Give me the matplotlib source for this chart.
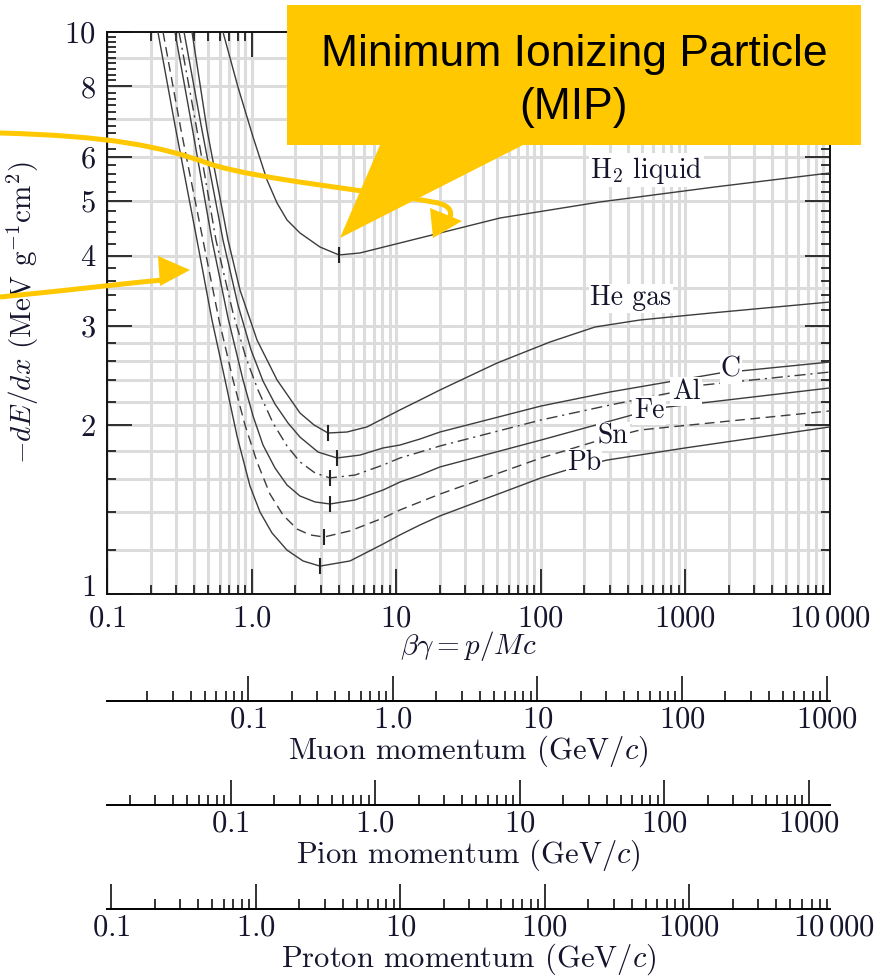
import matplotlib.pyplot as plt
import matplotlib.transforms as mtransforms
import numpy as np
from matplotlib.patches import Polygon, PathPatch
from matplotlib.path import Path
from matplotlib.ticker import FixedLocator, FixedFormatter, LogLocator, NullFormatter

plt.rcParams['font.family'] = 'cmr10'
plt.rcParams['mathtext.fontset'] = 'cm'
plt.rcParams['axes.unicode_minus'] = False
plt.rcParams['axes.formatter.use_mathtext'] = True

# stopping power, -dE/dx in MeV g^-1 cm^2, against beta*gamma
h2_bg = [0.634, 0.805, 1.023, 1.278, 1.499, 1.757, 2.161, 2.972, 4.022, 5.62, 7.727, 20.09, 52.24,
         256.7, 1602, 10000]
h2_dedx = [10.0, 7.98, 6.505, 5.454, 4.963, 4.630, 4.389, 4.144, 4.011, 4.044, 4.128, 4.389, 4.667,
           4.984, 5.30, 5.613]

he_bg = [0.387, 0.492, 0.687, 0.831, 1.090, 1.499, 2.161, 2.701, 3.376, 4.569, 6.282, 10.62, 14.61,
         20.09, 49.79, 115.8, 237.1, 485.4, 1504, 10000]
he_dedx = [10.0, 6.693, 4.265, 3.475, 2.831, 2.404, 2.099, 1.999, 1.934, 1.942, 1.983, 2.126, 2.214,
           2.307, 2.576, 2.808, 2.986, 3.073, 3.162, 3.308]

c_bg = [0.341, 0.447, 0.634, 0.805, 0.991, 1.199, 1.451, 1.785, 2.161, 2.880, 3.896, 5.62, 8.104,
        10.62, 14.61, 20.09, 100.3, 301.1, 1735, 10000]
c_dedx = [10.0, 6.832, 4.265, 3.268, 2.718, 2.393, 2.178, 2.015, 1.902, 1.789, 1.746, 1.767, 1.819,
          1.841, 1.887, 1.942, 2.160, 2.288, 2.473, 2.587]

al_bg = [0.315, 0.413, 0.567, 0.744, 0.915, 1.107, 1.406, 1.757, 2.161, 2.745, 3.485, 5.19, 8.104,
         10.62, 14.61, 20.09, 100.3, 301.1, 782.5, 1323, 10000]
al_dedx = [10.0, 6.832, 4.265, 3.162, 2.630, 2.307, 2.015, 1.834, 1.718, 1.642, 1.609, 1.628, 1.696,
           1.746, 1.789, 1.834, 2.040, 2.169, 2.279, 2.354, 2.483]

fe_bg = [0.295, 0.393, 0.532, 0.687, 0.872, 1.023, 1.199, 1.451, 1.757, 2.161, 2.745, 3.485, 5.19,
         8.104, 10.62, 14.61, 20.09, 100.3, 427.4, 746, 10000]
fe_dedx = [10.0, 6.639, 4.265, 3.098, 2.404, 2.074, 1.841, 1.676, 1.563, 1.494, 1.458, 1.446, 1.470,
           1.531, 1.582, 1.628, 1.683, 1.879, 2.082, 2.151, 2.326]

sn_bg = [0.244, 0.325, 0.461, 0.595, 0.744, 0.900, 1.090, 1.340, 1.649, 2.061, 2.535, 3.167, 4.792,
         8.104, 10.62, 14.61, 20.09, 100.3, 244.7, 485.4, 10000]
sn_dedx = [10.0, 6.693, 4.265, 3.073, 2.404, 1.999, 1.718, 1.506, 1.382, 1.305, 1.274, 1.263, 1.295,
           1.365, 1.411, 1.458, 1.506, 1.746, 1.872, 1.958, 2.117]

pb_bg = [0.225, 0.295, 0.419, 0.532, 0.655, 0.793, 0.975, 1.143, 1.384, 1.757, 2.267, 2.972, 4.792,
         8.104, 10.62, 14.61, 20.09, 100.3, 159.2, 287.0, 993.6, 10000]
pb_dedx = [10.0, 6.832, 4.265, 3.073, 2.404, 1.910, 1.556, 1.399, 1.284, 1.197, 1.145, 1.121, 1.145,
           1.227, 1.274, 1.327, 1.377, 1.609, 1.669, 1.731, 1.819, 1.983]

# curve labels: text, beta*gamma, dE/dx
label_text = [r'H$_2$ liquid', 'He gas', 'C', 'Al', 'Fe', 'Sn', 'Pb']
label_bg = [219, 219, 2065, 1009, 560, 316, 199]
label_dedx = [5.68, 3.36, 2.51, 2.29, 2.12, 1.91, 1.71]
label_ha = ['left', 'left', 'center', 'center', 'center', 'center', 'center']

# particle masses (GeV/c^2) for the momentum scales
muon_mass = 0.10566
pion_mass = 0.13957
proton_mass = 0.93827

x_ticks = [0.1, 1, 10, 100, 1000, 10000]
x_tick_labels = ['$0.1$', '$1.0$', '$10$', '$100$', '$1000$', r'$10\,000$']
y_ticks = [1, 2, 3, 4, 5, 6, 8, 10]
y_grid = [1.2, 1.4, 1.6, 1.8, 2, 2.2, 2.4, 2.6, 2.8, 3, 3.5, 4, 5, 6, 7, 8, 9]

W, H = 881, 976
fig = plt.figure(figsize=(W / 100, H / 100), dpi=100)


def fx(px):
    return px / W


def fy(py):
    return 1 - py / H


ink = '#15152e'
curve_col = '#3c3c3c'
grid_col = '#dcdcdc'
yellow = '#ffc800'

ax_left, ax_right = 107, 830
ax = fig.add_axes([fx(ax_left), fy(594), fx(ax_right) - fx(ax_left), fy(32) - fy(594)])
ax.set_xscale('log')
ax.set_yscale('log')
ax.set_xlim(0.1, 10000)
ax.set_ylim(1, 10)

# grid
for v in y_grid:
    ax.axhline(v, color=grid_col, lw=2.2, zorder=0)
ax.xaxis.set_minor_locator(LogLocator(base=10, subs=np.arange(2, 10), numticks=100))
ax.grid(True, which='both', axis='x', color=grid_col, lw=2.2, zorder=0)

curves = [
    (h2_bg, h2_dedx, '-'),
    (he_bg, he_dedx, '-'),
    (c_bg, c_dedx, '-'),
    (al_bg, al_dedx, (0, (8, 3.5, 1.5, 3.5))),
    (fe_bg, fe_dedx, '-'),
    (sn_bg, sn_dedx, (0, (7, 4))),
    (pb_bg, pb_dedx, '-'),
]
for bg, dedx, ls in curves:
    ax.plot(bg, dedx, ls=ls, color=curve_col, lw=1.0, zorder=3)
    # short bar at the minimum of each curve
    i = int(np.argmin(dedx))
    ax.plot(bg[i], dedx[i], ls='none', marker='|', ms=11, mew=1.5, color='#222222', zorder=4)

for txt, xb, yv, ha in zip(label_text, label_bg, label_dedx, label_ha):
    ax.text(xb, yv, txt, fontsize=20, color=ink, ha=ha, va='center', zorder=5,
            bbox=dict(facecolor='white', edgecolor='none', pad=1.0))

ax.xaxis.set_major_locator(FixedLocator(x_ticks))
ax.xaxis.set_major_formatter(FixedFormatter(x_tick_labels))
ax.xaxis.set_minor_formatter(NullFormatter())
ax.yaxis.set_major_locator(FixedLocator(y_ticks))
ax.yaxis.set_major_formatter(FixedFormatter(['$%d$' % v for v in y_ticks]))
ax.yaxis.set_minor_locator(FixedLocator(np.round(np.arange(1.2, 10, 0.2), 1)))
ax.yaxis.set_minor_formatter(NullFormatter())
ax.tick_params(which='both', direction='in', top=True, right=True, width=1.2, colors='#111111',
               labelcolor=ink, labelsize=22)
ax.tick_params(which='major', length=18, pad=8)
ax.tick_params(which='minor', length=6.5)
for s in ax.spines.values():
    s.set_linewidth(1.4)
    s.set_color('#111111')

# lift the lowest y label clear of the "0.1" below it
lab1 = ax.yaxis.get_major_ticks()[0].label1
lab1.set_transform(lab1.get_transform() + mtransforms.ScaledTranslation(0, 6 / 72, fig.dpi_scale_trans))

ax.set_xlabel(r'$\beta\gamma = p/Mc$', fontsize=21, color=ink)
ax.xaxis.set_label_coords(0.5, (594 - 629) / 562)
ax.set_ylabel(r'$-dE/dx$ (MeV g$^{-1}$cm$^2$)', fontsize=21, color=ink)
ax.yaxis.set_label_coords((41 - 107) / 723, 0.5)


def momentum_axis(py_line, mass, title, extra_label=None):
    a = fig.add_axes([fx(ax_left), fy(py_line), fx(ax_right) - fx(ax_left), 1e-4])
    a.set_xscale('log')
    a.set_xlim(0.1 * mass, 10000 * mass)
    for s in ('left', 'right', 'top'):
        a.spines[s].set_visible(False)
    a.spines['bottom'].set_linewidth(1.4)
    a.set_yticks([])
    a.patch.set_visible(False)
    a.xaxis.set_major_locator(FixedLocator(x_ticks[:5]))
    a.xaxis.set_major_formatter(FixedFormatter(x_tick_labels[:5]))
    a.xaxis.set_minor_locator(LogLocator(base=10, subs=np.arange(2, 10), numticks=100))
    a.xaxis.set_minor_formatter(NullFormatter())
    a.tick_params(which='both', direction='in', width=1.2, colors='#111111', labelcolor=ink,
                  labelsize=22)
    a.tick_params(which='major', length=18, pad=4)
    a.tick_params(which='minor', length=7)
    a.set_xlabel(title, fontsize=22, color=ink, labelpad=0)
    if extra_label:
        a.annotate(extra_label, xy=(10000, 0), xycoords=('data', 'axes fraction'),
                   xytext=(0, -4), textcoords='offset points', ha='center', va='top',
                   fontsize=22, color=ink, annotation_clip=False)
    return a


momentum_axis(701, muon_mass, r'Muon momentum (GeV/$c$)')
momentum_axis(805, pion_mass, r'Pion momentum (GeV/$c$)')
momentum_axis(909, proton_mass, r'Proton momentum (GeV/$c$)', extra_label=r'$10\,000$')


def pix(pts):
    return [(fx(x), fy(y)) for x, y in pts]


# callout box with pointer
callout = Polygon(pix([(287, 5), (861, 5), (861, 145), (523, 145), (340, 238), (380, 145), (287, 145)]),
                  closed=True, facecolor=yellow, edgecolor='none', transform=fig.transFigure, zorder=10)
fig.add_artist(callout)
fig.text(fx(574), fy(66), 'Minimum Ionizing Particle', family='Liberation Sans', fontsize=32,
         ha='center', va='baseline', color='black', zorder=11)
fig.text(fx(574), fy(119), '(MIP)', family='Liberation Sans', fontsize=32,
         ha='center', va='baseline', color='black', zorder=11)

# yellow arrows
upper = Path(pix([(0, 133), (110, 136), (160, 146), (210, 164), (260, 180), (370, 190), (438, 203),
                  (450, 206), (453, 212), (449, 220)]),
             [Path.MOVETO, Path.CURVE4, Path.CURVE4, Path.CURVE4, Path.CURVE4, Path.CURVE4, Path.CURVE4,
              Path.CURVE4, Path.CURVE4, Path.CURVE4])
fig.add_artist(PathPatch(upper, facecolor='none', edgecolor=yellow, lw=3.6, transform=fig.transFigure,
                         zorder=10))
fig.add_artist(Polygon(pix([(430, 208), (462, 221), (433, 238)]), closed=True, facecolor=yellow,
                       edgecolor='none', transform=fig.transFigure, zorder=10))

lower = Path(pix([(0, 297), (80, 289), (130, 283), (162, 280)]),
             [Path.MOVETO, Path.CURVE4, Path.CURVE4, Path.CURVE4])
fig.add_artist(PathPatch(lower, facecolor='none', edgecolor=yellow, lw=3.6, transform=fig.transFigure,
                         zorder=10))
fig.add_artist(Polygon(pix([(158, 256), (190, 270), (160, 286)]), closed=True, facecolor=yellow,
                       edgecolor='none', transform=fig.transFigure, zorder=10))

fig.savefig('out.png', dpi=100)
